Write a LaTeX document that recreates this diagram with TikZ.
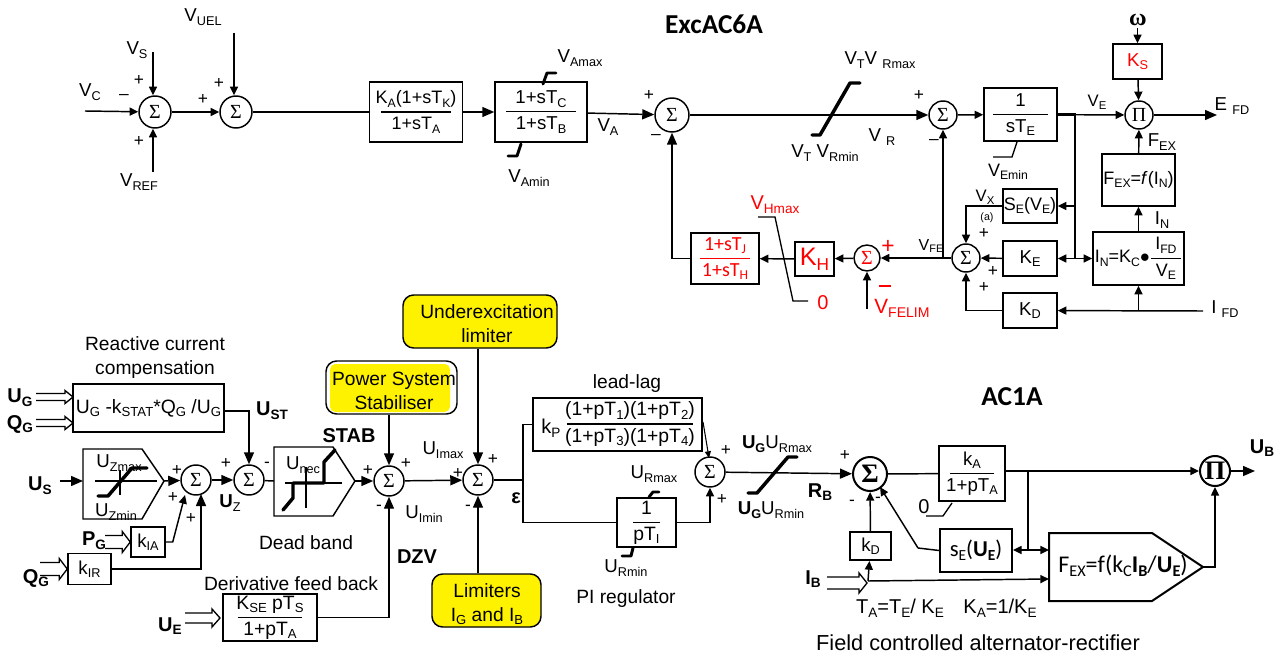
\documentclass[tikz,border=0pt]{standalone}
\usepackage{amsmath}
\usepackage{graphicx}
\usepackage{fontspec}
\setmainfont{Liberation Sans}
\newfontfamily\calib{Carlito}
\newfontfamily\grk{Liberation Serif}
\usetikzlibrary{arrows.meta,calc}
\newcommand{\low}[1]{\raisebox{-.35ex}{\scalebox{.68}{#1}}}
\newcommand{\frc}[3]{$\genfrac{}{}{0.9pt}{0}{\makebox[#1]{#2}}{\makebox[#1]{#3}}$}
\newcommand{\sig}{{\grk\fontsize{15}{15}\selectfont Σ}}
\newcommand{\sigb}{{\grk\bfseries\fontsize{20}{20}\selectfont Σ}}
\newcommand{\prd}{{\grk\fontsize{15}{15}\selectfont Π}}
\newcommand{\prdb}{{\grk\bfseries\fontsize{20}{20}\selectfont Π}}
% outline arrow: start, tip, half gap, wing
\newcommand{\dblarr}[4]{\draw[lim,line join=miter] ($(#1)+(0,-#3)$) -- ($(#2)+(-8,-#3)$) -- ($(#2)+(-8,-#3-#4)$) -- (#2) -- ($(#2)+(-8,#3+#4)$) -- ($(#2)+(-8,#3)$) -- ($(#1)+(0,#3)$);}

\begin{document}
\begin{tikzpicture}[
  x=0.75pt,y=-0.75pt,
  font=\fontsize{14}{16}\selectfont,
  wh/.style 2 args={minimum width=#1*0.75pt,minimum height=#2*0.75pt},
  block/.style={draw,line width=1.1pt,inner sep=0pt,align=center},
  blockb/.style={block,line width=1.5pt},
  sumc/.style={circle,draw,line width=1.1pt,inner sep=0pt,minimum size=#1*0.75pt},
  sumb/.style={sumc=#1,line width=1.5pt},
  lbl/.style={inner sep=0pt,align=center},
  sgn/.style={inner sep=0pt,font=\fontsize{13}{13}\selectfont},
  bold/.style={inner sep=0pt,font=\fontsize{15}{16}\selectfont\bfseries},
  note/.style={inner sep=0pt,align=center,font=\fontsize{14.4}{18}\selectfont},
  ttl/.style={inner sep=0pt,font=\fontsize{20.5}{22}\selectfont\calib\bfseries},
  yel/.style={draw,line width=1.1pt,fill=yellow,rounded corners=8pt,inner sep=0pt},
  wire/.style={line width=1.1pt},
  line/.style={wire,-{Triangle[length=6.5pt,width=6pt]}},
  lineb/.style={wire,-{Triangle[length=9pt,width=7.5pt]}},
  thin1/.style={line width=.8pt,-{Triangle[length=5pt,width=4.5pt]}},
  sat/.style={line width=2.6pt,line cap=round,line join=round},
  hook/.style={line width=2.2pt,line cap=round,line join=round},
  lim/.style={line width=1pt}
]
\useasboundingbox (0,0) rectangle (1285,656);

% ---- ExcAC6A forward path ----
\node[ttl] (title1) at (714,24) {ExcAC6A};
\node[sumc=32] (s1) at (155,112) {\sig};
\node[sumc=32] (s2) at (236,112) {\sig};
\node[block,wh={93}{60},font=\fontsize{13.5}{15}\selectfont] (ka) at (416,112) {\frc{52pt}{K\low{A}(1+sT\low{K})}{1+sT\low{A}}};
\node[block,wh={92}{60}] (tc) at (541,112) {\frc{52pt}{1+sT\low{C}}{1+sT\low{B}}};
\node[sumc=34] (s3) at (672,115) {\sig};
\node[sumc=28] (s4) at (943,115) {\sig};
\node[block,wh={73}{53}] (te) at (1020.5,114.5) {\frc{41pt}{1}{sT\low{E}}};
\node[sumc=28] (pi1) at (1139,115) {\prd};
\node[block,wh={49}{35},text=red] (ks) at (1137.5,61.5) {K\low{S}};
\node[block,wh={73}{52},font=\fontsize{13.5}{15}\selectfont] (fex) at (1138.5,180) {F\low{EX}=\textit{f}(I\low{N})};
\node[block,wh={91}{53},font=\fontsize{13.5}{15}\selectfont] (in) at (1138.5,258.5) {I\low{N}=K\low{C}$\bullet$\frc{22pt}{I\low{FD}}{V\low{E}}};
\node[block,wh={54}{34},font=\fontsize{13.5}{15}\selectfont] (se) at (1030,206) {S\low{E}(V\low{E})};
\node[block,wh={54}{35}] (ke) at (1030,258.5) {K\low{E}};
\node[block,wh={54}{35}] (kd) at (1030,310.5) {K\low{D}};
\node[sumc=28] (s5) at (966,258) {\sig};
\node[sumc=26,text=red] (s6) at (867,258) {\sig};
\node[block,wh={39}{34},text=red,font=\fontsize{19}{20}\selectfont] (kh) at (814.5,259) {K\low{H}};
\node[block,wh={68}{51},text=red,font=\fontsize{15}{17}\selectfont\calib] (th) at (725,258.5) {\frc{38pt}{1+sT\low{J}}{1+sT\low{H}}};

% ---- ExcAC6A labels ----
\node[lbl] (lvc) at (90,92) {V\low{C}};
\node[lbl] (lvs) at (137,50) {V\low{S}};
\node[lbl] (lvuel) at (203,17) {V\low{UEL}};
\node[lbl] (lvref) at (139,182) {V\low{REF}};
\node[lbl] (lvamax) at (580,58) {V\low{Amax}};
\node[lbl] (lvamin) at (529,178) {V\low{Amin}};
\node[lbl] (lva) at (608,127) {V\low{A}};
\node[lbl] (lvtmax) at (880,60) {V\low{T}V \low{Rmax}};
\node[lbl] (lvtmin) at (825,153) {V\low{T} V\low{Rmin}};
\node[lbl] (lvr) at (882,137) {V \low{R}};
\node[lbl,font=\fontsize{12.5}{14}\selectfont] (lve) at (1097,102) {V\low{E}};
\node[lbl] (lefd) at (1232,106) {E \low{FD}};
\node[lbl,font=\fontsize{18}{18}\selectfont\grk\bfseries] (lomega) at (1138,20) {ω};
\node[lbl] (lfex) at (1162,142) {F\low{EX}};
\node[lbl] (lin) at (1162,220) {I\low{N}};
\node[lbl] (lifd) at (1225,309) {I \low{FD}};
\node[lbl,font=\fontsize{13.5}{15}\selectfont] (lvemin) at (1008,172) {V\low{Emin}};
\node[lbl,font=\fontsize{12.5}{14}\selectfont] (lvx) at (985,197) {V\low{X}};
\node[lbl,font=\fontsize{8}{9}\selectfont] (la) at (987,218) {(a)};
\node[lbl,font=\fontsize{12}{13}\selectfont] (lvfe) at (931,246) {V\low{FE}};
\node[lbl,text=red,font=\fontsize{15}{16}\selectfont] (lvhmax) at (775,205) {V\low{Hmax}};
\node[lbl,text=red,font=\fontsize{15}{16}\selectfont] (lzero) at (823,303) {0};
\node[lbl,text=red,font=\fontsize{15.5}{16}\selectfont] (lvfelim) at (902,308) {V\low{FELIM}};
\node[sgn,text=red] (lbar) at (885,286) {\rule{9pt}{.8pt}};
\node[sgn,text=red,font=\fontsize{17}{17}\selectfont] (lred) at (888,247) {+};
\node[sgn] (p1) at (139,81) {+};
\node[sgn] (p2) at (139,141) {+};
\node[sgn] (m1) at (124,97) {--};
\node[sgn] (p3) at (203,99) {+};
\node[sgn] (p4) at (219,83) {+};
\node[sgn] (p5) at (649,95) {+};
\node[sgn] (m2) at (656,137) {--};
\node[sgn] (p6) at (919,95) {+};
\node[sgn] (m3) at (934,142) {--};
\node[sgn] (p7) at (984,233) {+};
\node[sgn] (p8) at (993,271) {+};
\node[sgn] (p9) at (984,287) {+};

% ---- ExcAC6A connectors ----
\coordinate (vcin) at (85,111);
\coordinate (vsin) at (153,52);
\coordinate (uelin) at (234,33);
\coordinate (refin) at (153,172);
\draw[line] (vcin) -- (s1);
\draw[line] (vsin) -- (vsin |- s1.north);
\draw[line] (uelin) -- (uelin |- s2.north);
\draw[line] (refin) -- (refin |- s1.south);
\draw[line] (s1) -- (s2);
\draw[wire] (s2) -- (ka);
\draw[lineb] (ka) -- (tc);
\draw[lineb] (tc) -- (s3);
\draw[lineb] (s3) -- (s4);
\draw[line] (s4) -- (te);
\draw[line] (te) -- (pi1);
\draw[lineb] (pi1) -- ++(78,0) coordinate (efdout);
\coordinate (wtop) at (1137.5,28);
\draw[line] (wtop) -- (ks);
\draw[line] (ks) -- (pi1);
\draw[line] (fex) -- (pi1);
\draw[line] (in) -- (fex);
\coordinate (jte) at (1075,114.5);
\coordinate (jke) at (1075,258.5);
\draw[line width=1.7pt] (te.east |- jte) -- (jte) -- (jke);
\draw[line] (jte |- se) -- (se);
\draw[line] (jke) -- (ke);
\draw[line] (jke) -- (in);
\draw[line] (se) -| (s5);
\draw[line] (ke) -- (s5);
\draw[line] (kd) -| (s5);
\coordinate (ifdin) at (1203,311);
\draw[line] (ifdin) -- (kd);
\draw[line] (in.south |- ifdin) -- (in);
\draw[line] (s5) -- (s6);
\draw[line] (s5.west -| s4) -- (s4);
\draw[line] (s6) -- (kh);
\draw[line] (kh) -- (th);
\draw[lineb] (th) -| (s3);
\coordinate (felimin) at (867,309);
\draw[line] (felimin) -- (s6);
\draw[lim] (758,217) -- (775,217) -- (793,301) -- (808,301);
\draw[sat] (812,135) -- (820,135) -- (850,83) -- (860,83);
\draw[hook] (543,84) -- (547,73) -- (556,73);
\draw[hook] (521,144) -- (517,156) -- (508,156);
\draw[lim] (1017,142) -- (1012,157) -- (993,157);

% ---- exciter stages, lower diagram ----
\node[ttl] (title2) at (1012,397) {AC1A};
\node[note] (nreact) at (155,358) {Reactive current\\compensation};
\node[block,wh={151}{48},font=\fontsize{14.5}{16}\selectfont] (comp) at (148.5,408) {U\low{G} -k\low{STAT}*Q\low{G} /U\low{G}};
\node[sumc=30] (s7) at (196,480) {\sig};
\node[sumc=30] (s8) at (249,480) {\sig};
\node[sumc=30] (s9) at (389,481) {\sig};
\node[sumc=30] (s10) at (478,480) {\sig};
\node[sumc=30] (s11) at (710,472) {\sig};
\node[sumb=34] (s12) at (870,474) {\sigb};
\node[sumb=30] (pi2) at (1215,471) {\prdb};
\node[block,wh={34}{30}] (kia) at (148,542) {k\low{IA}};
\node[block,wh={43}{31}] (kir) at (89.5,569) {k\low{IR}};
\node[block,wh={94}{47},font=\fontsize{14.5}{16}\selectfont] (der) at (270,617.5) {\frc{48pt}{K\low{SE} pT\low{S}}{1+pT\low{A}}};
\node[block,wh={169}{53}] (lead) at (617.5,424.5) {};
\node[lbl,font=\fontsize{15}{16}\selectfont] (lkp) at (551,428) {k\low{P}};
\node[lbl,font=\fontsize{14.5}{16}\selectfont] (lfrac) at (630,424) {\frc{95pt}{(1+pT\low{1})(1+pT\low{2})}{(1+pT\low{3})(1+pT\low{4})}};
\node[block,wh={59}{49},font=\fontsize{14.5}{16}\selectfont] (pireg) at (646.5,522.5) {\frc{20pt}{1}{pT\low{I}}};
\node[blockb,wh={66}{55}] (kab) at (972,473.5) {\frc{33pt}{k\low{A}}{1+pT\low{A}}};
\node[blockb,wh={72}{43}] (seb) at (976,550.5) {\calib\fontsize{17}{19}\selectfont s\low{E}(\textbf{U\low{E}})};
\node[blockb,wh={41}{28}] (kdb) at (870.5,546) {k\low{D}};

% ---- yellow boxes ----
\node[yel,fill=white,wh={131}{53}] (psbox) at (391.5,387.5) {};
\node[fill=yellow,rounded corners=4pt,wh={120}{48},inner sep=0pt] (psfill) at (390,388) {};
\node[note] (pstxt) at (394,391) {Power System\\Stabiliser};
\node[yel,wh={154}{53}] (uxbox) at (480,321.5) {};
\node[note] (uxtxt) at (487,324) {Underexcitation\\limiter};
\node[yel,wh={109}{53}] (lmbox) at (486.5,600.5) {};
\node[note] (lmtxt) at (487,604) {Limiters\\I\low{G} and I\low{B}};

% ---- lower labels ----
\node[bold] (lug) at (20,398) {U\low{G}};
\node[bold] (lqg1) at (20,424) {Q\low{G}};
\node[bold] (lust) at (272,411) {U\low{ST}};
\node[bold] (lus) at (40,486) {U\low{S}};
\node[bold] (lpg) at (94,541) {P\low{G}};
\node[bold] (lqg2) at (36,578) {Q\low{G}};
\node[bold] (lue) at (170,626) {U\low{E}};
\node[lbl] (luzmax) at (119,463) {U\low{Zmax}};
\node[lbl] (luzmin) at (116,512) {U\low{Zmin}};
\node[lbl] (lunec) at (303,465) {U\low{nec}};
\node[bold] (lstab) at (349,436) {STAB};
\node[lbl] (luz) at (230,503) {\textbf{U}\low{Z}};
\node[note] (ldead) at (306,543) {Dead band};
\node[note] (lderiv) at (291,584) {Derivative feed back};
\node[bold] (ldzv) at (417,557) {DZV};
\node[lbl] (luimax) at (443,450) {U\low{Imax}};
\node[lbl] (luimin) at (424,514) {U\low{Imin}};
\node[bold] (leps) at (516,498) {ε};
\node[note] (lleadlag) at (627,384) {lead-lag};
\node[lbl] (lurmax) at (654,474) {U\low{Rmax}};
\node[lbl] (lurmin) at (626,568) {U\low{Rmin}};
\node[note] (lpi) at (626,599) {PI regulator};
\node[lbl] (lugmax) at (777,444) {\textbf{U\low{G}}U\low{Rmax}};
\node[lbl] (lugmin) at (771,510) {\textbf{U\low{G}}U\low{Rmin}};
\node[bold] (lrb) at (820,492) {R\low{B}};
\node[bold] (lub) at (1262,448) {U\low{B}};
\node[bold] (lib) at (813,579) {I\low{B}};
\node[lbl,font=\fontsize{15}{16}\selectfont] (lzero2) at (924,507) {0};
\node[lbl,font=\fontsize{18}{20}\selectfont\calib] (lfexf) at (1123,566) {F\low{EX}=f(k\low{C}\textbf{I\low{B}}/\textbf{U\low{E}})};
\node[lbl,font=\fontsize{15}{16}\selectfont] (lta) at (900,608) {T\low{A}=T\low{E}/ K\low{E}};
\node[lbl,font=\fontsize{15}{16}\selectfont] (lkae) at (1000,608) {K\low{A}=1/K\low{E}};
\node[note,font=\fontsize{16.3}{18}\selectfont] (lfield) at (978,643) {Field controlled alternator-rectifier};
\node[sgn] (q1) at (177,470) {+};
\node[sgn] (q2) at (173,497) {+};
\node[sgn] (q3) at (191,518) {+};
\node[sgn] (q4) at (226,463) {+};
\node[sgn] (q5) at (267,465) {-};
\node[sgn] (q6) at (368,470) {+};
\node[sgn] (q7) at (406,463) {+};
\node[sgn] (q8) at (379,508) {-};
\node[sgn] (q9) at (458,473) {+};
\node[sgn] (q10) at (493,459) {+};
\node[sgn] (q11) at (468,508) {-};
\node[sgn] (q12) at (726,450) {+};
\node[sgn] (q13) at (722,499) {+};
\node[sgn] (q14) at (845,455) {+};
\node[sgn] (q15) at (852,503) {-};
\node[sgn] (q16) at (878,500) {-};

% ---- limiter and dead band pentagons ----
\draw[wire] (83,449) -- (142,449) -- (164,481) coordinate (zlim) -- (142,519) -- (83,519) -- cycle;
\coordinate (zlimw) at (83,481);
\draw[lim] (95,481) -- (157,481);
\draw[lim] (120,470) -- (120,495);
\draw[sat] (98,496) -- (108,496) -- (132,468) -- (147,468);
\draw[wire] (274,447) -- (333,447) -- (355,481) coordinate (dlim) -- (333,516) -- (274,516) -- cycle;
\coordinate (dlimw) at (274,481);
\draw[lim] (285,483) -- (342,483);
\draw[lim] (306,467) -- (306,508);
\draw[sat] (283,510) -- (293,498) -- (293,483) -- (324,483) -- (324,462) -- (335,450);
\draw[line width=1.5pt] (1049,533) -- (1152,533) -- (1203,567) coordinate (fextip) -- (1152,601) -- (1049,601) -- cycle;

% ---- lower connectors ----
\coordinate (ugin) at (36,397);
\coordinate (qgin) at (36,423);
\coordinate (pgin) at (105,542);
\coordinate (qrin) at (40,569);
\coordinate (uein) at (185,618);
\coordinate (ueend) at (220,618);
\coordinate (ibin) at (827,583);
\coordinate (ibend) at (867,583);
\coordinate (usin) at (60,481);
\coordinate (compout) at (224,411);
\coordinate (ugend) at (73,397);
\coordinate (qgend) at (73,423);
\dblarr{ugin}{ugend}{3.5}{3}
\dblarr{qgin}{qgend}{3.5}{3}
\dblarr{pgin}{kia.west}{6.5}{4}
\dblarr{qrin}{kir.west}{6.5}{4}
\dblarr{uein}{ueend}{5}{4}
\dblarr{ibin}{ibend}{6}{4}
\draw[lineb] (usin) -- (zlimw);
\draw[lineb] (zlim) -- (s7);
\draw[lineb] (s7) -- (s8);
\draw[wire] (s8) -- (dlimw);
\draw[lineb] (dlim) -- (s9);
\draw[lineb] (s9) -- (s10);
\draw[lineb] (compout) -| (s8);
\draw[line] (kia.east) -- ++(7,0) -- (185,495);
\draw[lineb] (kir) -| (201,494);
\draw[lineb] (der) -| (s9);
\draw[lineb] (psbox.south -| s9) -- (s9);
\draw[lineb] (uxbox.south -| s10) -- (s10);
\draw[lineb] (lmbox.north -| s10) -- (s10);
\coordinate (jeps) at (523,480);
\draw[wire] (s10) -- (jeps);
\draw[wire] (lead.west) -| (jeps);
\draw[wire] (jeps) |- (pireg);
\draw[line] (pireg) -| (s11);
\draw[thin1] (703,422) -- (709,458);
\draw[lineb] (s11) -- (s12);
\draw[sat] (748,493) -- (757,493) -- (788,457) -- (797,457);
\draw[hook] (649,497) -- (653,492) -- (659,492);
\draw[hook] (633,548) -- (631,556) -- (622,556);
\draw[wire] (s12) -- (kab);
\draw[line] (kab.east |- pi2) -- (pi2);
\draw[lineb] (pi2) -- ++(40,0) coordinate (ubout);
\coordinate (jka) at (1028,471);
\coordinate (jse) at (1028,550);
\draw[wire] (jka) -- (jse);
\draw[line] (jse) -- (seb.east |- jse);
\draw[line] (jse) -- (1049,550);
\draw[wire] (seb.west) -- (918,548) coordinate (seturn);
\draw[line] (seturn) -- (880,487);
\draw[line] (kdb) -- (s12);
\coordinate (jib) at (868,581);
\draw[line] (jib) -- (kdb);
\draw[line] (jib) -- (1049,579);
\draw[line] (fextip) -| (pi2);
\draw[lim] (952,503) -- (943,516) -- (926,516);

\end{tikzpicture}
\end{document}
